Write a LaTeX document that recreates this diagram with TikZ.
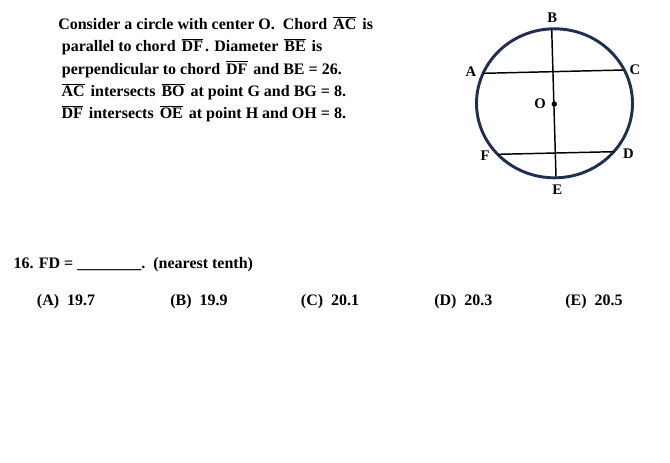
\documentclass[tikz,border=0pt]{standalone}
\usepackage{fontspec}
\setmainfont{Liberation Serif}
\definecolor{rimblue}{HTML}{1F2F4F}
\newcommand\seg[1]{\hspace{1.5pt}$\overline{\mbox{#1}}$\hspace{1.5pt}}

\begin{document}
\begin{tikzpicture}[x=0.75pt,y=-0.75pt,font=\bfseries\fontsize{12}{14}\selectfont,
  textline/.style={anchor=base west, inner sep=0pt}]
\useasboundingbox (0,0) rectangle (670,462);

% problem statement
\node[textline] (line1) at (58,29.3) {Consider a circle with center O.\ \ Chord \seg{AC} is};
\node[textline] (line2) at (61.7,51.7) {parallel to chord \seg{DF}. Diameter \seg{BE} is};
\node[textline] (line3) at (61.7,74) {perpendicular to chord \seg{DF} and BE = 26.};
\node[textline] (line4) at (59.3,96.7) {\seg{AC} intersects \seg{BO} at point G and BG = 8.};
\node[textline] (line5) at (59.3,118.3) {\seg{DF} intersects \seg{OE} at point H and OH = 8.};

% circle and chords
\coordinate (O) at (554.3,104);
\coordinate (B) at (551.7,29.3);
\coordinate (E) at (556,176.7);
\coordinate (A) at (483.3,73.3);
\coordinate (C) at (623.3,70);
\coordinate (F) at (498.3,154.3);
\coordinate (D) at (613.3,151.7);

\draw[rimblue, line width=2.2pt] (554.5,103.3) ellipse [x radius=78, y radius=74.5];
\draw[line width=1.1pt] (B) -- (E);
\draw[line width=1.1pt] (A) -- (C);
\draw[line width=1.1pt] (F) -- (D);
\fill (O) circle (2.7);

\begin{scope}[font=\bfseries\fontsize{11}{13}\selectfont]
  \foreach \p/\x/\y in {B/552.3/17.3, A/471/71.7, C/635/70, O/540/104, F/485/156, D/628.3/153.3, E/557.3/190}
    \node (lab\p) at (\x,\y) {\p};
\end{scope}

% question and choices
\node[textline] (question) at (13.3,268) {16. FD = \_\_\_\_\_\_\_\_.\ \ (nearest tenth)};
\foreach \x/\c/\v in {36.7/A/19.7, 170/B/19.9, 300.7/C/20.1, 434/D/20.3, 565/E/20.5}
  \node[textline] (choice\c) at (\x,305) {(\c)\ \ \v};

\end{tikzpicture}
\end{document}
